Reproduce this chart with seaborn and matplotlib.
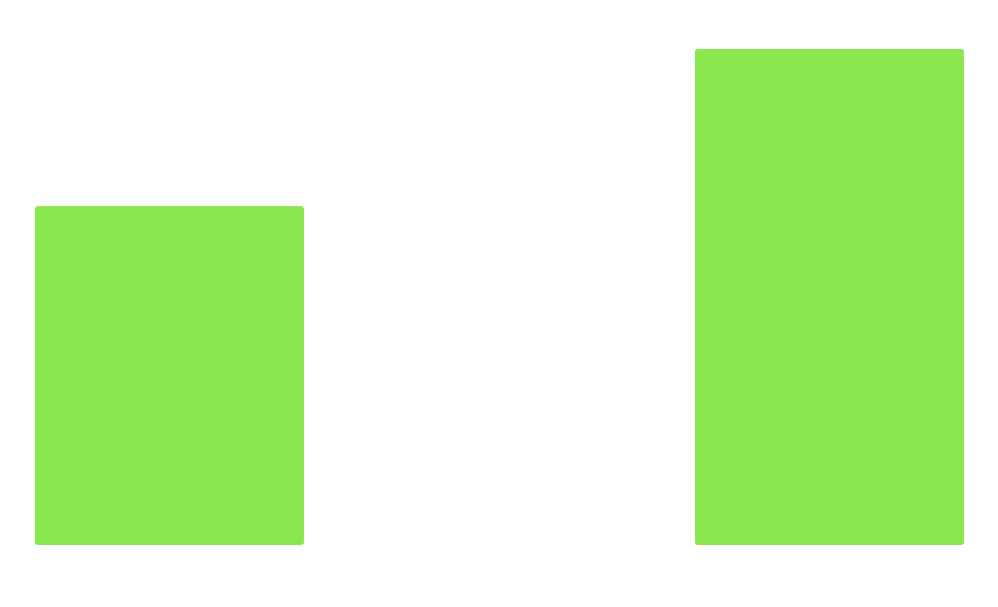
import matplotlib
matplotlib.use("Agg")
import matplotlib.pyplot as plt
import seaborn as sns
import pandas as pd
from matplotlib.patches import FancyBboxPatch

# Données
categories = ["A", "B", "C"]
values = [41, 0, 60]

df = pd.DataFrame({"cat": categories, "val": values})

sns.set_theme(style="white")
fig = plt.figure(figsize=(9.98, 6.07), dpi=100)
ax = fig.add_axes([4.5 / 998, 62 / 607, 990 / 998, 496 / 607])

sns.barplot(data=df, x="cat", y="val", color="#8ae84e", width=0.815,
            saturation=1, ax=ax)
ax.set_xlim(-0.5, 2.5)
ax.set_ylim(0, 60)

# coins arrondis
px_x = 3 / 330
px_y = 3 * 60 / 496
for p in list(ax.patches):
    x, y = p.get_x(), p.get_y()
    w, h = p.get_width(), p.get_height()
    if h <= 0:
        p.remove()
        continue
    rb = FancyBboxPatch((x, y), w, h,
                        boxstyle=f"round,pad=0,rounding_size={px_x}",
                        mutation_aspect=px_y / px_x,
                        facecolor=p.get_facecolor(), edgecolor="none")
    p.remove()
    ax.add_patch(rb)

ax.set_axis_off()
fig.savefig("out.png", dpi=100, facecolor="white")
